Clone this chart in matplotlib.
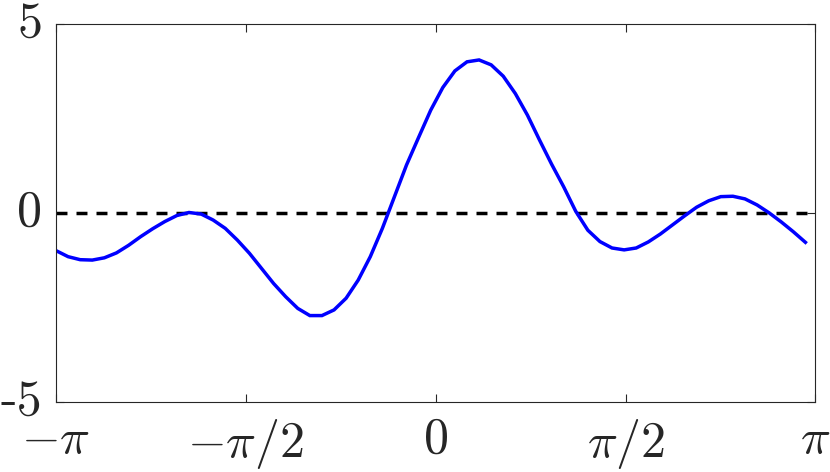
import numpy as np
import matplotlib
matplotlib.use("Agg")
import matplotlib.pyplot as plt
from matplotlib.transforms import ScaledTranslation

plt.rcParams['mathtext.fontset'] = 'cm'
plt.rcParams['font.family'] = 'serif'
plt.rcParams['font.serif'] = ['cmr10', 'DejaVu Serif']
plt.rcParams['lines.scale_dashes'] = False

# sample positions: -pi : 0.1 : pi
x = -np.pi + 0.1 * np.arange(63)
y = [-1.00, -1.16, -1.24, -1.25, -1.19, -1.06, -0.86, -0.63, -0.42, -0.23,
     -0.07, 0.01, -0.03, -0.19, -0.41, -0.72, -1.07, -1.47, -1.87, -2.22,
     -2.53, -2.72, -2.72, -2.57, -2.26, -1.78, -1.16, -0.41, 0.43, 1.27,
     2.00, 2.72, 3.32, 3.76, 4.00, 4.05, 3.92, 3.62, 3.16, 2.59,
     1.93, 1.29, 0.69, 0.04, -0.46, -0.76, -0.93, -0.98, -0.93, -0.77,
     -0.56, -0.32, -0.08, 0.15, 0.32, 0.43, 0.44, 0.37, 0.21, 0.00,
     -0.24, -0.50, -0.78]

xticks = [-np.pi, -np.pi / 2, 0, np.pi / 2, np.pi]
xticklabels = [r'$-\pi$', r'$-\pi/2$', r'$0$', r'$\pi/2$', r'$\pi$']
yticks = [-5, 0, 5]
yticklabels = ['-5', '0', '5']

fig = plt.figure(figsize=(8.3, 4.72), dpi=100)
ax = fig.add_axes([0.0675, 0.149, 0.915, 0.800])

ax.plot([-np.pi, np.pi], [0, 0], color='black', lw=2.5, dashes=(7.9, 6.5))
ax.plot(x, y, color='#0000ff', lw=2.5, solid_joinstyle='miter')

ax.set_xlim(-np.pi, np.pi)
ax.set_ylim(-5, 5)
ax.set_xticks(xticks)
ax.set_xticklabels(xticklabels, fontsize=36)
ax.set_yticks(yticks)
ax.set_yticklabels(yticklabels, fontsize=36, fontfamily='cmr10')

ax.tick_params(direction='in', length=6, width=0.8, color='#262626',
               top=True, right=True, labelcolor='#262626')
ax.tick_params(axis='x', pad=11)
ax.tick_params(axis='y', pad=10)
for s in ax.spines.values():
    s.set_color('#262626')
    s.set_linewidth(0.8)

# raise y labels slightly like the reference
off = ScaledTranslation(0, 5 / 100, fig.dpi_scale_trans)
for lbl in ax.get_yticklabels():
    lbl.set_transform(lbl.get_transform() + off)

fig.savefig('out.png', dpi=100)
